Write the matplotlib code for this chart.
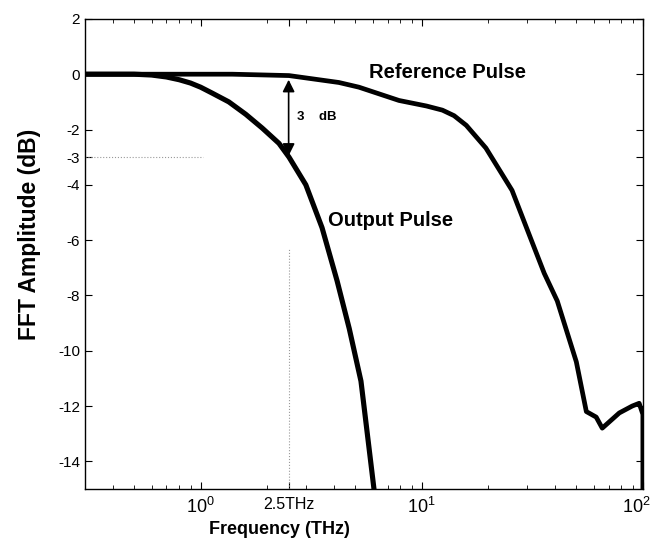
import numpy as np
import matplotlib
matplotlib.use("Agg")
import matplotlib.pyplot as plt
import matplotlib.transforms as mtransforms
from matplotlib.ticker import FixedLocator, NullFormatter, LogLocator

plt.rcParams.update({
    "font.family": ["Liberation Sans", "DejaVu Sans"],
    "font.size": 10,
    "mathtext.fontset": "custom",
    "mathtext.rm": "Liberation Sans",
})

# Output pulse spectrum (THz, dB)
out_freq = [0.3, 0.5, 0.6, 0.7, 0.8, 0.9, 1.0, 1.125, 1.34, 1.6, 1.9, 2.26, 2.51,
            2.99, 3.54, 4.14, 4.7, 5.31, 6.08, 6.2]
out_amp = [0.0, 0.0, -0.03, -0.1, -0.2, -0.32, -0.47, -0.68, -1.0, -1.45, -1.95, -2.5, -3.0,
           -4.0, -5.55, -7.47, -9.2, -11.1, -15.0, -15.5]

# Reference pulse spectrum
ref_freq = [0.3, 1.0, 1.39, 2.51, 4.22, 5.2, 7.89, 10.5, 12.4, 14.0, 15.9, 19.5, 25.6, 30.6,
            35.8, 41.0, 50.0, 55.5, 61.5, 65.5, 78.2, 89.5, 96.2, 100.0, 100.0]
ref_amp = [0.0, 0.0, 0.0, -0.05, -0.3, -0.47, -0.95, -1.15, -1.3, -1.5, -1.85, -2.67, -4.2, -5.8,
           -7.2, -8.2, -10.4, -12.2, -12.4, -12.8, -12.25, -12.0, -11.9, -12.3, -16.0]

y_ticks = [2, 0, -2, -3, -4, -6, -8, -10, -12, -14]
x_ticks = [1, 2.5, 10, 100]
x_labels = [r"$10^0$", "2.5THz", r"$10^1$", r"$10^2$"]

fig = plt.figure(figsize=(6.54, 5.46), dpi=100)
ax = fig.add_axes([0.130, 0.1044, 0.853, 0.861])

ax.plot(out_freq, out_amp, color="black", lw=3.7, solid_capstyle="butt", solid_joinstyle="round")
ax.plot(ref_freq, ref_amp, color="black", lw=3.4, solid_capstyle="butt", solid_joinstyle="round")

# 3 dB guide lines
ax.plot([0.3, 1.03], [-3, -3], color="0.6", lw=0.8, ls=":")
ax.plot([2.5, 2.5], [-15, -6.3], color="0.6", lw=0.8, ls=":")

# double-headed arrow for 3 dB
ax.annotate("", xy=(2.5, -2.95), xytext=(2.5, -0.2),
            arrowprops=dict(arrowstyle="<|-|>", color="black", lw=1.2,
                            mutation_scale=18, shrinkA=0, shrinkB=0))
ax.text(2.72, -1.55, "3    dB", fontsize=9.5, fontweight="bold", va="center", ha="left")

ax.text(5.75, 0.05, "Reference Pulse", fontsize=14.5, fontweight="bold", va="center")
ax.text(3.75, -5.3, "Output Pulse", fontsize=14.5, fontweight="bold", va="center")

ax.set_xscale("log")
ax.set_xlim(0.3, 100)
ax.set_ylim(-15, 2)
ax.xaxis.set_major_locator(FixedLocator(x_ticks))
ax.set_xticklabels(x_labels)
ax.xaxis.set_minor_locator(LogLocator(base=10, subs=np.arange(2, 10)))
ax.xaxis.set_minor_formatter(NullFormatter())
ax.set_yticks(y_ticks)
ax.set_yticklabels([str(v) for v in y_ticks])

ax.tick_params(which="both", direction="in", top=True, right=True)
ax.tick_params(axis="y", labelsize=11)
ax.tick_params(axis="x", labelsize=11.5)
ax.tick_params(which="major", length=5, width=0.8)
ax.tick_params(which="minor", length=3, width=0.6)
ax.tick_params(axis="x", which="major", pad=6)
for s in ax.spines.values():
    s.set_linewidth(1.0)

# power-of-ten labels a bit larger, last one kept inside the figure
xlabs = ax.get_xticklabels()
for i in (0, 2, 3):
    xlabs[i].set_fontsize(13)
xlabs[-1].set_transform(xlabs[-1].get_transform()
                        + mtransforms.ScaledTranslation(-5 / 72, 0, fig.dpi_scale_trans))

fig.text(0.427, 0.03, "Frequency (THz)", fontsize=13, fontweight="bold", ha="center", va="center")
fig.text(0.045, 0.57, "FFT Amplitude (dB)", fontsize=16.5, fontweight="bold", ha="center",
         va="center", rotation=90)

fig.savefig("out.png", dpi=100)
